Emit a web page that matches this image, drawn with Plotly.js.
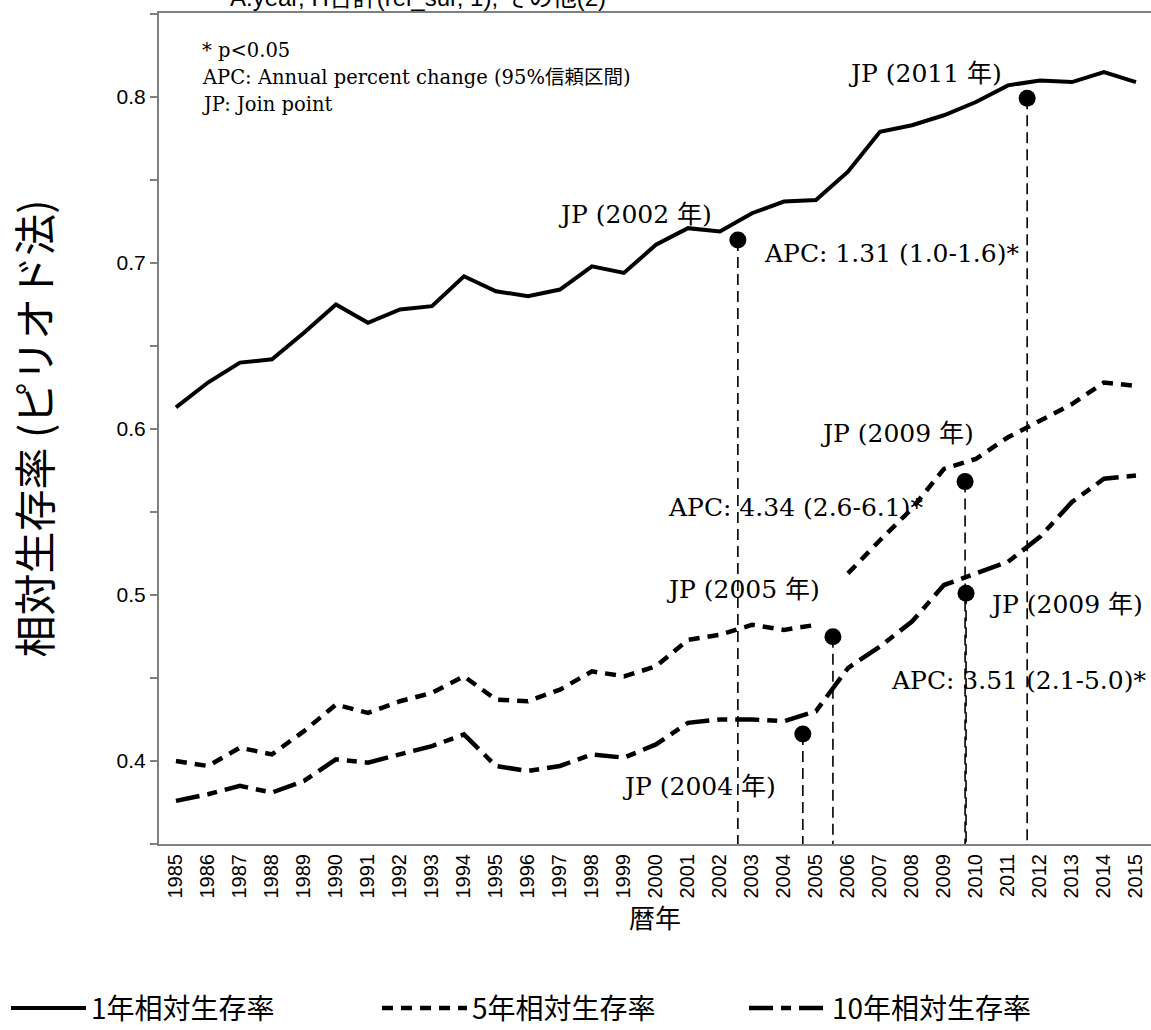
<!DOCTYPE html>
<html><head><meta charset="utf-8">
<script src="https://cdn.plot.ly/plotly-3.0.1.min.js"></script>
<style>html,body{margin:0;padding:0;background:#fff;}#chart{width:1151px;height:1030px;}</style>
</head><body><div id="chart"></div>
<script>
// ---- data ----
const years = [1985,1986,1987,1988,1989,1990,1991,1992,1993,1994,1995,1996,1997,1998,1999,2000,2001,2002,2003,2004,2005,2006,2007,2008,2009,2010,2011,2012,2013,2014,2015];
const oneYear  = [0.613,0.628,0.640,0.642,0.658,0.675,0.664,0.672,0.674,0.692,0.683,0.680,0.684,0.698,0.694,0.711,0.721,0.719,0.730,0.737,0.738,0.755,0.779,0.783,0.789,0.797,0.807,0.810,0.809,0.815,0.809];
const fiveYear = [0.400,0.397,0.408,0.404,0.418,0.434,0.429,0.436,0.441,0.451,0.437,0.436,0.443,0.454,0.451,0.457,0.473,0.476,0.482,0.479,0.482,0.513,0.533,0.552,0.576,0.582,0.595,0.605,0.615,0.628,0.626];
const tenYear  = [0.376,0.380,0.385,0.381,0.388,0.401,0.399,0.404,0.409,0.416,0.397,0.394,0.397,0.404,0.402,0.410,0.423,0.425,0.425,0.424,0.430,0.456,0.469,0.484,0.506,0.513,0.520,0.535,0.556,0.570,0.572];
const fiveYearBreakAfter = 2005;
const seriesNames = ['1年相対生存率','5年相対生存率','10年相対生存率'];

const jpX = [2002.56, 2011.60, 2009.66, 2005.53, 2009.69, 2004.59];
const jpY = [0.7139, 0.7992, 0.5683, 0.4749, 0.5010, 0.4163];
const jpLabels = ['JP (2002 年)','JP (2011 年)','JP (2009 年)','JP (2005 年)','JP (2009 年)','JP (2004 年)'];
const apcLabels = ['APC: 1.31 (1.0-1.6)*','APC: 4.34 (2.6-6.1)*','APC: 3.51 (2.1-5.0)*'];
const noteLines = ['* p<0.05','APC: Annual percent change (95%信頼区間)','JP: Join point'];
const yTickVals = [0.4,0.5,0.6,0.7,0.8];
const xTitle = '暦年';
const yTitle = '相対生存率 (ピリオド法)';
const cutTitle = 'A.year, H合計(rel_sur, 1), その他(2)';

// ---- geometry helpers (pixel -> axis) ----
const L = 159, T = 13, W = 992, H = 831;
const xr = [1984.47, 1984.47 + 31];
const yr = [0.35, 0.35 + H/1660];
const dx = px => xr[0] + (px - L) / W * (xr[1]-xr[0]);
const dy = py => yr[0] + (T + H - py) / H * (yr[1]-yr[0]);

const serif = 'DejaVu Serif, Noto Sans CJK JP, serif';
const sans = 'Liberation Sans, Arial, Noto Sans CJK JP, sans-serif';
const cjk = 'Noto Sans CJK JP, sans-serif';

const brk = years.indexOf(fiveYearBreakAfter) + 1;
const traces = [
  {x: years, y: oneYear, mode:'lines', name: seriesNames[0], legend:'legend',
   line:{color:'#000', width:4}},
  {x: years.slice(0,brk), y: fiveYear.slice(0,brk), mode:'lines', name: seriesNames[1], legend:'legend2', legendgroup:'g5',
   line:{color:'#000', width:4.5, dash:'11px,8px'}},
  {x: years.slice(brk), y: fiveYear.slice(brk), mode:'lines', name: seriesNames[1], legend:'legend2', legendgroup:'g5', showlegend:false,
   line:{color:'#000', width:4.5, dash:'11px,8px'}},
  {x: years, y: tenYear, mode:'lines', name: seriesNames[2], legend:'legend3',
   line:{color:'#000', width:4.5, dash:'24px,8px,10px,8px'}},
  {x: jpX, y: jpY, mode:'markers', showlegend:false, cliponaxis:false,
   marker:{color:'#000', size:17}}
];

const shapes = jpX.map((x,i) => ({type:'line', xref:'x', yref:'y', x0:x, x1:x, y0:jpY[i], y1:yr[0]-0.004,
  line:{color:'#000', width:1.6, dash:'11px,6px'}, layer:'below'}));

// label positions (pixel centres)
const jpPos = [[635,214],[925,73],[897,433],[743,589],[1066,604],[699,786]];
const apcPos = [[891,253],[795,507],[1018,680]];
const annotations = [];
jpLabels.forEach((t,i)=>annotations.push({x:dx(jpPos[i][0]), y:dy(jpPos[i][1]), xref:'x', yref:'y', text:t,
  showarrow:false, xanchor:'center', yanchor:'middle', font:{family:serif, size:25, color:'#000'}}));
apcLabels.forEach((t,i)=>annotations.push({x:dx(apcPos[i][0]), y:dy(apcPos[i][1]), xref:'x', yref:'y', text:t,
  showarrow:false, xanchor:'center', yanchor:'middle', font:{family:serif, size:25, color:'#000'}}));
noteLines.forEach((t,i)=>annotations.push({x:dx(200), y:dy(50 + i*27), xref:'x', yref:'y', text:t,
  showarrow:false, xanchor:'left', yanchor:'middle', font:{family:serif, size:19.5, color:'#000'}}));
annotations.push({x:(418-L)/W, y:1 + (T+2)/H, xref:'paper', yref:'paper', text:cutTitle, showarrow:false,
  xanchor:'center', yanchor:'middle', font:{family:sans, size:24, color:'#000'}});

const legBase = {orientation:'h', xref:'container', yref:'container', y:0.021, xanchor:'left', yanchor:'middle',
  font:{family:cjk, size:28, color:'#000'}, bgcolor:'rgba(0,0,0,0)', borderwidth:0};

const layout = {
  width:1151, height:1030,
  margin:{l:L, r:1151-L-W, t:T, b:1030-T-H, pad:0},
  paper_bgcolor:'#fff', plot_bgcolor:'#fff',
  showlegend:true,
  xaxis:{range:xr, tickvals:years, ticktext:years.map(String), tickangle:-90, showgrid:false, zeroline:false,
    showline:true, linecolor:'#808080', linewidth:2, mirror:true, ticks:'',
    tickfont:{family:sans, size:20, color:'#000'},
    title:{text:xTitle, font:{family:cjk, size:26, color:'#000'}, standoff:12}},
  yaxis:{range:yr, tickvals:yTickVals, ticktext:yTickVals.map(v=>v.toFixed(1)), showgrid:false, zeroline:false,
    showline:true, linecolor:'#808080', linewidth:2, ticks:'outside', ticklen:7, tickcolor:'#808080', tickwidth:2,
    minor:{dtick:0.05, tick0:0.35, ticks:'outside', ticklen:7, tickcolor:'#808080', tickwidth:2},
    tickfont:{family:sans, size:21, color:'#000'},
    title:{text:yTitle, font:{family:cjk, size:42, color:'#000'}, standoff:52}},
  legend: Object.assign({}, legBase, {x:6/1151, itemwidth:75}),
  legend2: Object.assign({}, legBase, {x:377/1151, itemwidth:85}),
  legend3: Object.assign({}, legBase, {x:744/1151, itemwidth:78}),
  shapes:shapes,
  annotations:annotations
};

Plotly.newPlot('chart', traces, layout, {displayModeBar:false, staticPlot:true});
</script>
</body></html>
